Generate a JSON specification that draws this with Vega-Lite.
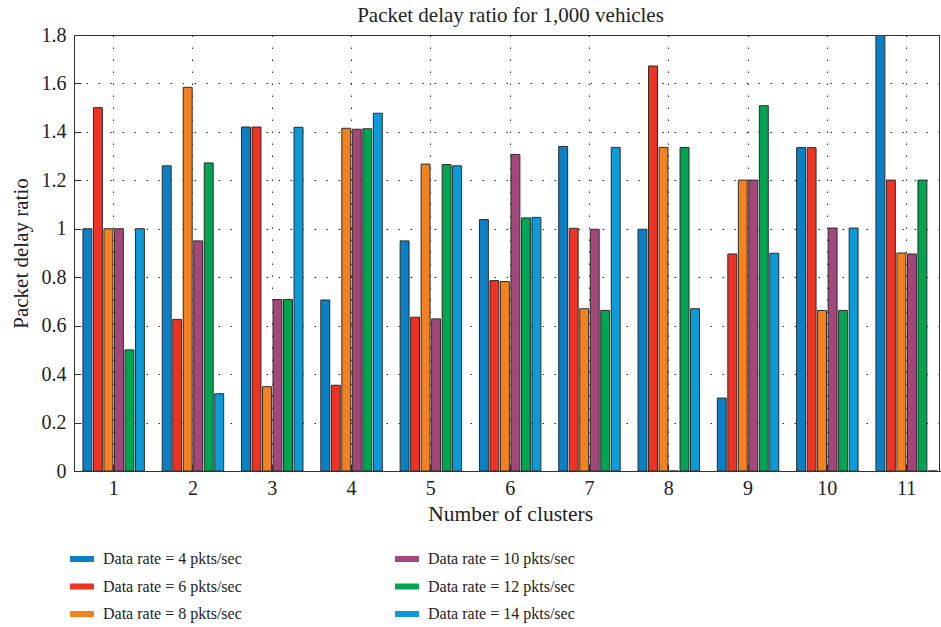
{
  "$schema": "https://vega.github.io/schema/vega-lite/v6.json",
  "width": 865,
  "height": 436,
  "autosize": {"type": "none"},
  "padding": {"left": 74, "top": 35, "right": 2, "bottom": 156},
  "background": "white",
  "title": {"text": "Packet delay ratio for 1,000 vehicles", "font": "Liberation Serif", "fontSize": 21, "fontWeight": "normal", "color": "#222", "offset": 8, "dy": 9, "anchor": "middle", "dx": 4},
  "config": {
    "view": {"stroke": "#333", "strokeWidth": 1},
    "font": "Liberation Serif",
    "axis": {"labelFont": "Liberation Serif", "titleFont": "Liberation Serif", "labelColor": "#222", "titleColor": "#222", "titleFontWeight": "normal"}
  },
  "data": {"values": [
    {"cluster": "1", "rate": 4, "series": "Data rate = 4 pkts/sec", "value": 1.0},
    {"cluster": "1", "rate": 6, "series": "Data rate = 6 pkts/sec", "value": 1.5},
    {"cluster": "1", "rate": 8, "series": "Data rate = 8 pkts/sec", "value": 1.0},
    {"cluster": "1", "rate": 10, "series": "Data rate = 10 pkts/sec", "value": 1.0},
    {"cluster": "1", "rate": 12, "series": "Data rate = 12 pkts/sec", "value": 0.5},
    {"cluster": "1", "rate": 14, "series": "Data rate = 14 pkts/sec", "value": 1.0},
    {"cluster": "2", "rate": 4, "series": "Data rate = 4 pkts/sec", "value": 1.26},
    {"cluster": "2", "rate": 6, "series": "Data rate = 6 pkts/sec", "value": 0.626},
    {"cluster": "2", "rate": 8, "series": "Data rate = 8 pkts/sec", "value": 1.584},
    {"cluster": "2", "rate": 10, "series": "Data rate = 10 pkts/sec", "value": 0.95},
    {"cluster": "2", "rate": 12, "series": "Data rate = 12 pkts/sec", "value": 1.272},
    {"cluster": "2", "rate": 14, "series": "Data rate = 14 pkts/sec", "value": 0.319},
    {"cluster": "3", "rate": 4, "series": "Data rate = 4 pkts/sec", "value": 1.42},
    {"cluster": "3", "rate": 6, "series": "Data rate = 6 pkts/sec", "value": 1.42},
    {"cluster": "3", "rate": 8, "series": "Data rate = 8 pkts/sec", "value": 0.348},
    {"cluster": "3", "rate": 10, "series": "Data rate = 10 pkts/sec", "value": 0.708},
    {"cluster": "3", "rate": 12, "series": "Data rate = 12 pkts/sec", "value": 0.708},
    {"cluster": "3", "rate": 14, "series": "Data rate = 14 pkts/sec", "value": 1.419},
    {"cluster": "4", "rate": 4, "series": "Data rate = 4 pkts/sec", "value": 0.706},
    {"cluster": "4", "rate": 6, "series": "Data rate = 6 pkts/sec", "value": 0.354},
    {"cluster": "4", "rate": 8, "series": "Data rate = 8 pkts/sec", "value": 1.415},
    {"cluster": "4", "rate": 10, "series": "Data rate = 10 pkts/sec", "value": 1.411},
    {"cluster": "4", "rate": 12, "series": "Data rate = 12 pkts/sec", "value": 1.413},
    {"cluster": "4", "rate": 14, "series": "Data rate = 14 pkts/sec", "value": 1.477},
    {"cluster": "5", "rate": 4, "series": "Data rate = 4 pkts/sec", "value": 0.95},
    {"cluster": "5", "rate": 6, "series": "Data rate = 6 pkts/sec", "value": 0.635},
    {"cluster": "5", "rate": 8, "series": "Data rate = 8 pkts/sec", "value": 1.267},
    {"cluster": "5", "rate": 10, "series": "Data rate = 10 pkts/sec", "value": 0.628},
    {"cluster": "5", "rate": 12, "series": "Data rate = 12 pkts/sec", "value": 1.265},
    {"cluster": "5", "rate": 14, "series": "Data rate = 14 pkts/sec", "value": 1.26},
    {"cluster": "6", "rate": 4, "series": "Data rate = 4 pkts/sec", "value": 1.038},
    {"cluster": "6", "rate": 6, "series": "Data rate = 6 pkts/sec", "value": 0.786},
    {"cluster": "6", "rate": 8, "series": "Data rate = 8 pkts/sec", "value": 0.782},
    {"cluster": "6", "rate": 10, "series": "Data rate = 10 pkts/sec", "value": 1.307},
    {"cluster": "6", "rate": 12, "series": "Data rate = 12 pkts/sec", "value": 1.045},
    {"cluster": "6", "rate": 14, "series": "Data rate = 14 pkts/sec", "value": 1.047},
    {"cluster": "7", "rate": 4, "series": "Data rate = 4 pkts/sec", "value": 1.34},
    {"cluster": "7", "rate": 6, "series": "Data rate = 6 pkts/sec", "value": 1.002},
    {"cluster": "7", "rate": 8, "series": "Data rate = 8 pkts/sec", "value": 0.67},
    {"cluster": "7", "rate": 10, "series": "Data rate = 10 pkts/sec", "value": 0.998},
    {"cluster": "7", "rate": 12, "series": "Data rate = 12 pkts/sec", "value": 0.663},
    {"cluster": "7", "rate": 14, "series": "Data rate = 14 pkts/sec", "value": 1.336},
    {"cluster": "8", "rate": 4, "series": "Data rate = 4 pkts/sec", "value": 0.998},
    {"cluster": "8", "rate": 6, "series": "Data rate = 6 pkts/sec", "value": 1.672},
    {"cluster": "8", "rate": 8, "series": "Data rate = 8 pkts/sec", "value": 1.336},
    {"cluster": "8", "rate": 10, "series": "Data rate = 10 pkts/sec", "value": 0},
    {"cluster": "8", "rate": 12, "series": "Data rate = 12 pkts/sec", "value": 1.336},
    {"cluster": "8", "rate": 14, "series": "Data rate = 14 pkts/sec", "value": 0.67},
    {"cluster": "9", "rate": 4, "series": "Data rate = 4 pkts/sec", "value": 0.301},
    {"cluster": "9", "rate": 6, "series": "Data rate = 6 pkts/sec", "value": 0.896},
    {"cluster": "9", "rate": 8, "series": "Data rate = 8 pkts/sec", "value": 1.201},
    {"cluster": "9", "rate": 10, "series": "Data rate = 10 pkts/sec", "value": 1.201},
    {"cluster": "9", "rate": 12, "series": "Data rate = 12 pkts/sec", "value": 1.508},
    {"cluster": "9", "rate": 14, "series": "Data rate = 14 pkts/sec", "value": 0.899},
    {"cluster": "10", "rate": 4, "series": "Data rate = 4 pkts/sec", "value": 1.335},
    {"cluster": "10", "rate": 6, "series": "Data rate = 6 pkts/sec", "value": 1.335},
    {"cluster": "10", "rate": 8, "series": "Data rate = 8 pkts/sec", "value": 0.663},
    {"cluster": "10", "rate": 10, "series": "Data rate = 10 pkts/sec", "value": 1.003},
    {"cluster": "10", "rate": 12, "series": "Data rate = 12 pkts/sec", "value": 0.663},
    {"cluster": "10", "rate": 14, "series": "Data rate = 14 pkts/sec", "value": 1.003},
    {"cluster": "11", "rate": 4, "series": "Data rate = 4 pkts/sec", "value": 1.8},
    {"cluster": "11", "rate": 6, "series": "Data rate = 6 pkts/sec", "value": 1.201},
    {"cluster": "11", "rate": 8, "series": "Data rate = 8 pkts/sec", "value": 0.9},
    {"cluster": "11", "rate": 10, "series": "Data rate = 10 pkts/sec", "value": 0.896},
    {"cluster": "11", "rate": 12, "series": "Data rate = 12 pkts/sec", "value": 1.201},
    {"cluster": "11", "rate": 14, "series": "Data rate = 14 pkts/sec", "value": 0}
  ]},
  "mark": {"type": "bar", "stroke": "#2b2b2b", "strokeWidth": 1, "clip": true},
  "encoding": {
    "x": {
      "field": "cluster", "type": "ordinal", "sort": null,
      "scale": {"domain": ["1","2","3","4","5","6","7","8","9","10","11"], "range": [0, 872.3], "paddingInner": 0, "paddingOuter": 0},
      "axis": {"orient": "bottom", "title": "Number of clusters", "titleFontSize": 21.5, "titlePadding": 5, "labelFontSize": 20, "labelAngle": 0, "labelPadding": 14, "tickSize": -7, "tickColor": "#333", "domain": true, "domainColor": "#333", "grid": true, "gridColor": "#333", "gridDash": [1.5, 10.5], "gridWidth": 1}
    },
    "xOffset": {"field": "rate", "type": "ordinal", "scale": {"paddingInner": 0.15, "paddingOuter": 0.85}},
    "y": {
      "field": "value", "type": "quantitative",
      "scale": {"domain": [0, 1.8], "nice": false, "zero": true},
      "axis": {"orient": "left", "title": "Packet delay ratio", "titleFontSize": 21, "titlePadding": 10, "labelFontSize": 20, "labelPadding": 15, "values": [0,0.2,0.4,0.6,0.8,1,1.2,1.4,1.6,1.8], "format": "~g", "tickSize": -7, "tickColor": "#333", "domain": true, "domainColor": "#333", "grid": true, "gridColor": "#333", "gridDash": [1.5, 10.5], "gridWidth": 1}
    },
    "color": {
      "field": "series", "type": "nominal",
      "scale": {
        "domain": ["Data rate = 4 pkts/sec", "Data rate = 6 pkts/sec", "Data rate = 8 pkts/sec", "Data rate = 10 pkts/sec", "Data rate = 12 pkts/sec", "Data rate = 14 pkts/sec"],
        "range": ["#0a80c6", "#ee3224", "#f48120", "#a3477b", "#00a551", "#0b9bdb"]
      },
      "legend": {
        "orient": "none", "legendX": -4, "legendY": 512, "columns": 2, "title": null,
        "symbolType": "M-1,-0.25H1V0.25H-1Z", "symbolSize": 576, "symbolStrokeWidth": 0, "symbolOpacity": 1,
        "labelFont": "Liberation Serif", "labelFontSize": 16, "labelColor": "#222", "labelOffset": 9, "labelLimit": 300,
        "rowPadding": 7.5, "columnPadding": 153
      }
    }
  }
}
